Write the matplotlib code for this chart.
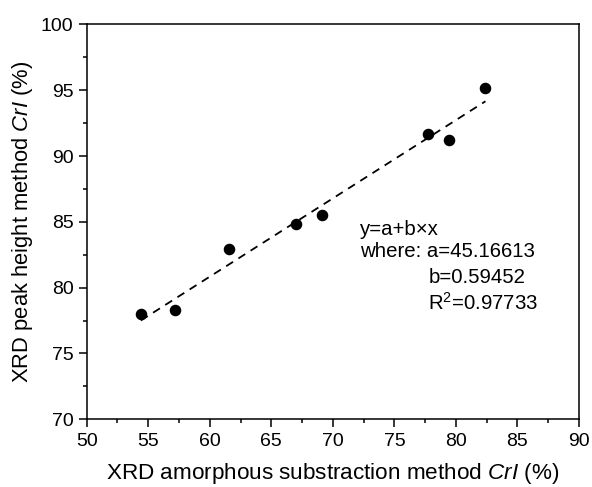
import matplotlib
matplotlib.use("Agg")
import matplotlib.pyplot as plt
from matplotlib.ticker import MultipleLocator
import numpy as np

plt.rcParams['font.family'] = ['Liberation Sans', 'DejaVu Sans']
plt.rcParams['mathtext.fontset'] = 'custom'
plt.rcParams['mathtext.rm'] = 'Liberation Sans'
plt.rcParams['mathtext.it'] = 'Liberation Sans:italic'

# data
x_amorph = [54.4, 57.2, 61.6, 67.0, 69.1, 77.7, 79.4, 82.4]
y_peak = [78.0, 78.3, 82.9, 84.8, 85.5, 91.7, 91.2, 95.2]
fit_a = 45.16613
fit_b = 0.59452
fit_r2 = 0.97733
x_ticks = [50, 55, 60, 65, 70, 75, 80, 85, 90]
y_ticks = [70, 75, 80, 85, 90, 95, 100]

fig = plt.figure(figsize=(5.92, 4.87), dpi=100)
ax = fig.add_axes([0.1465, 0.139, 0.978 - 0.1465, 0.950 - 0.139])

ax.plot(x_amorph, y_peak, 'o', color='black', markersize=7.3, zorder=3)
xf = np.array([min(x_amorph), max(x_amorph)])
ax.plot(xf, fit_a + fit_b * xf, color='black', lw=1.3, linestyle=(0, (4.5, 3.5)), zorder=2)

ax.set_xlim(50, 90)
ax.set_ylim(70, 100)
ax.set_xticks(x_ticks)
ax.set_yticks(y_ticks)
ax.xaxis.set_minor_locator(MultipleLocator(2.5))
ax.yaxis.set_minor_locator(MultipleLocator(2.5))
ax.tick_params(axis='both', which='major', direction='out', length=5.5, width=1.1,
               labelsize=14, pad=4)
ax.tick_params(axis='both', which='minor', direction='out', length=3, width=1.1)
ax.tick_params(top=False, right=False, which='both')
for s in ax.spines.values():
    s.set_linewidth(1.1)

ax.set_xlabel(r'XRD amorphous substraction method $\mathit{CrI}$ (%)', fontsize=16.2, labelpad=8.5)
ax.set_ylabel(r'XRD peak height method $\mathit{CrI}$ (%)', fontsize=15.8, labelpad=4.5)

fs = 14.7
ax.text(72.2, 84.0, 'y=a+b\u00d7x', fontsize=fs, va='baseline', ha='left')
ax.text(72.2, 82.35, 'where: a=%.5f' % fit_a, fontsize=fs, va='baseline', ha='left')
ax.text(77.75, 80.36, 'b=%.5f' % fit_b, fontsize=fs, va='baseline', ha='left')
ax.text(77.75, 78.31, r'R$^2$=%.5f' % fit_r2, fontsize=fs, va='baseline', ha='left')

fig.savefig('out.png', dpi=100)
